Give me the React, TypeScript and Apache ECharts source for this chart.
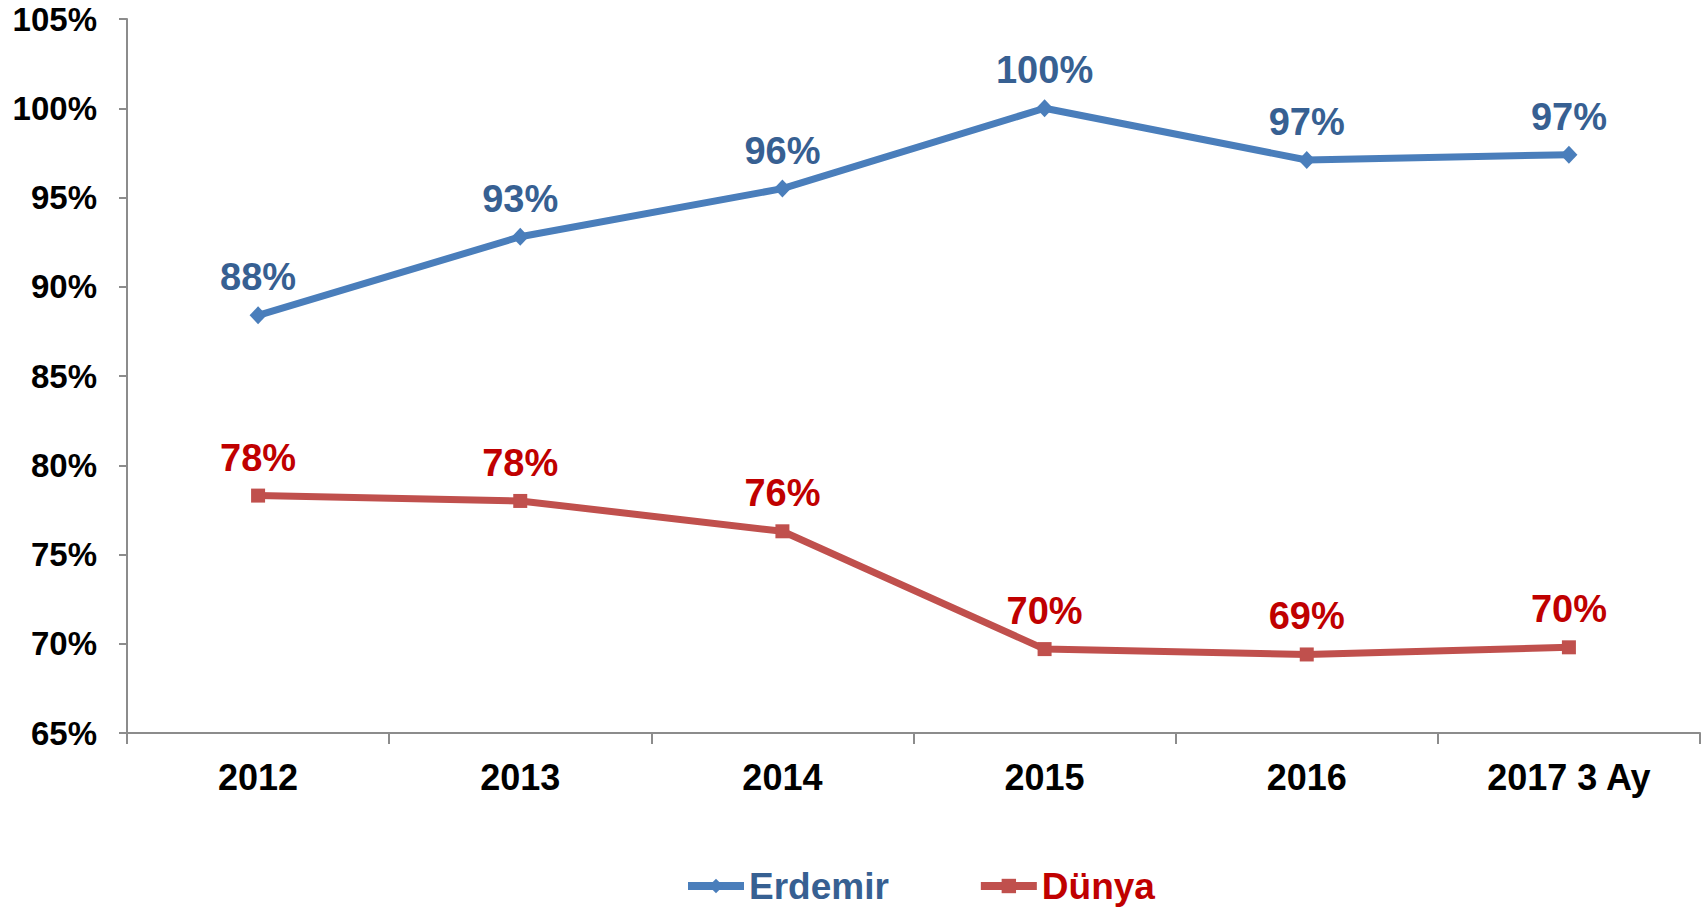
import React, { useEffect, useRef } from "react";
import * as echarts from "echarts";

const categories = ["2012", "2013", "2014", "2015", "2016", "2017 3 Ay"];
const erdemirValues = [88.4, 92.8, 95.5, 100.0, 97.1, 97.4];
const dunyaValues = [78.3, 78.0, 76.3, 69.7, 69.4, 69.8];
const seriesNames = ["Erdemir", "Dünya"];
const yTicks = { min: 65, max: 105, interval: 5 };

const FONT = "'Liberation Sans', Arial, Helvetica, sans-serif";

export default function App() {
  const ref = useRef<HTMLDivElement>(null);

  useEffect(() => {
    if (!ref.current) return;
    const chart = echarts.init(ref.current, undefined, { renderer: "svg" });
    const pct = (p: any) => `${Math.round(p.value)}%`;
    chart.setOption({
      animation: false,
      backgroundColor: "#ffffff",
      textStyle: { fontFamily: FONT },
      grid: { left: 127, right: 7, top: 19, bottom: 174, containLabel: false },
      legend: {
        top: 862,
        left: 679,
        itemWidth: 56,
        itemHeight: 18,
        itemGap: 88,
        lineStyle: { width: 8 },
        textStyle: { fontFamily: FONT, fontSize: 37, fontWeight: "bold", lineHeight: 38 },
        data: [
          { name: seriesNames[0], textStyle: { color: "#376092" } },
          { name: seriesNames[1], textStyle: { color: "#C00000" } },
        ],
      },
      xAxis: {
        type: "category",
        data: categories,
        boundaryGap: true,
        axisLine: { show: true, lineStyle: { color: "#8c8c8c", width: 2 } },
        axisTick: { show: true, length: 11, lineStyle: { color: "#8c8c8c", width: 2 } },
        axisLabel: {
          color: "#000000",
          fontFamily: FONT,
          fontSize: 36,
          fontWeight: "bold",
          margin: 26,
        },
        splitLine: { show: false },
      },
      yAxis: {
        type: "value",
        min: yTicks.min,
        max: yTicks.max,
        interval: yTicks.interval,
        axisLine: { show: true, lineStyle: { color: "#8c8c8c", width: 2 } },
        axisTick: { show: true, length: 8, lineStyle: { color: "#8c8c8c", width: 2 } },
        axisLabel: {
          color: "#000000",
          fontFamily: FONT,
          fontSize: 33,
          fontWeight: "bold",
          margin: 30,
          formatter: "{value}%",
        },
        splitLine: { show: false },
      },
      series: [
        {
          name: seriesNames[0],
          type: "line",
          data: erdemirValues,
          color: "#4A7EBB",
          symbol: "diamond",
          symbolSize: [17, 18],
          lineStyle: { width: 7, color: "#4A7EBB" },
          itemStyle: { color: "#4A7EBB" },
          label: {
            show: true,
            position: "top",
            distance: 10,
            color: "#376092",
            fontFamily: FONT,
            fontSize: 38,
            fontWeight: "bold",
            formatter: pct,
          },
        },
        {
          name: seriesNames[1],
          type: "line",
          data: dunyaValues,
          color: "#C0504D",
          symbol: "rect",
          symbolSize: 14,
          lineStyle: { width: 7, color: "#C0504D" },
          itemStyle: { color: "#C0504D" },
          label: {
            show: true,
            position: "top",
            distance: 12,
            color: "#C00000",
            fontFamily: FONT,
            fontSize: 38,
            fontWeight: "bold",
            formatter: pct,
          },
        },
      ],
    });
    return () => chart.dispose();
  }, []);

  return (
    <div
      ref={ref}
      style={{ position: "fixed", left: 0, top: 0, width: 1707, height: 907, background: "#fff" }}
    />
  );
}
